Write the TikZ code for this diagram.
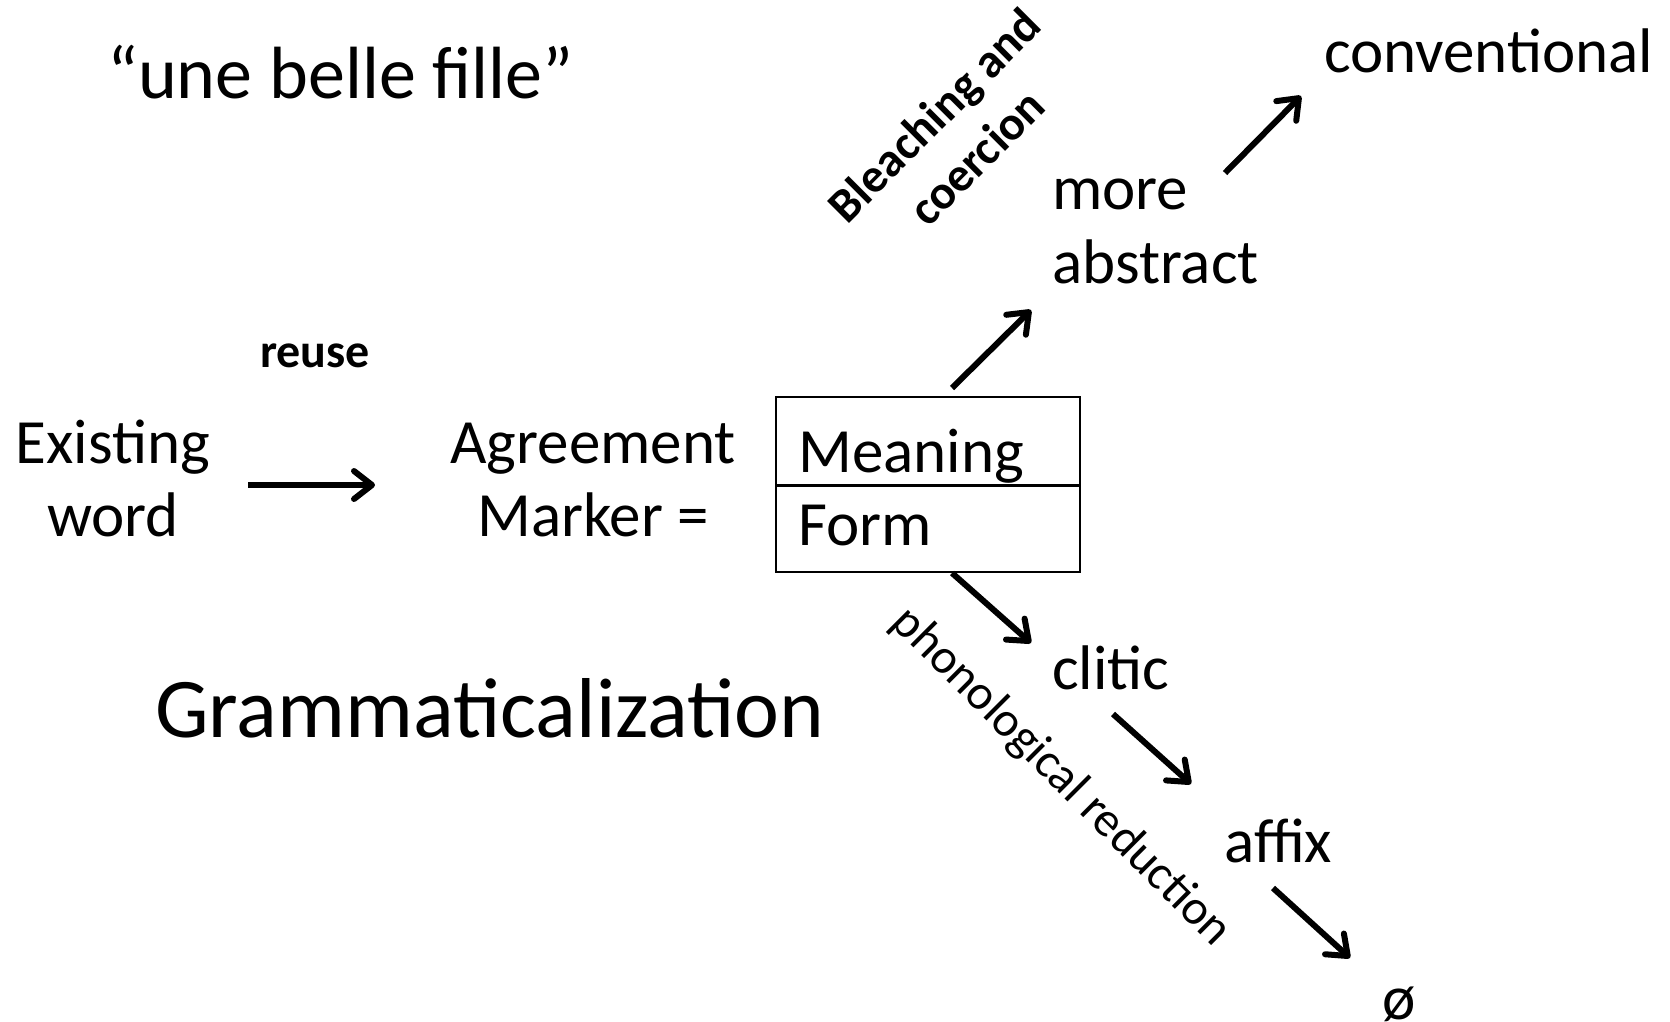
\documentclass[tikz,border=0pt]{standalone}
\usepackage{fontspec}
\setmainfont{Carlito}
\usetikzlibrary{arrows.meta}
\begin{document}
\begin{tikzpicture}[x=1pt,y=-1pt,
  lbl/.style={inner sep=0pt,font=\fontsize{63}{73}\selectfont},
  big/.style={inner sep=0pt,font=\fontsize{85}{95}\selectfont},
  quote/.style={inner sep=0pt,font=\fontsize{74}{84}\selectfont},
  bold/.style={inner sep=0pt,font=\fontsize{48}{60}\selectfont\bfseries},
  thin/.style={inner sep=0pt,font=\fontsize{49}{60}\selectfont},
  arr/.style={line width=6pt,-{Straight Barb[length=18pt,width=28pt,line width=6pt,round]}},
  boxline/.style={line width=2pt}]
\useasboundingbox (0,0) rectangle (1670,1021);
\clip (0,0) rectangle (1670,1021);
% texts
\node[quote,anchor=base west] (q) at (107,98) {“une belle fille”};
\node[lbl,anchor=base west] (conv) at (1324,72) {conventional};
\node[lbl,anchor=base west] (more) at (1052,209) {more};
\node[lbl,anchor=base west] (abs) at (1052,283) {abstract};
\node[bold,anchor=base west] (reuse) at (260,367) {reuse};
\node[lbl,anchor=base] (ex) at (113,463) {Existing};
\node[lbl,anchor=base] (wd) at (113,536) {word};
\node[lbl,anchor=base] (ag) at (593,463) {Agreement};
\node[lbl,anchor=base] (mk) at (593,536) {Marker =};
\node[lbl,anchor=base west] (mean) at (798,472) {Meaning};
\node[lbl,anchor=base west] (form) at (798,545) {Form};
\node[lbl,anchor=base west] (clitic) at (1052,689) {clitic};
\node[lbl,anchor=base west] (affix) at (1224,862) {affix};
\node[lbl,anchor=base west] (zero) at (1382,1019) {ø};
\node[big,anchor=base west] (gram) at (155,737) {Grammaticalization};
\node[bold,align=center,rotate=45] (bleach) at (955,136) {Bleaching and\\coercion};
\node[thin,rotate=-45] (phon) at (1061,777) {phonological reduction};
% box
\draw[boxline] (776,397) rectangle (1080,572);
\draw[line width=3pt] (776,485) -- (1080,485);
% arrow end points
\coordinate (a1s) at (248,485); \coordinate (a1e) at (375,485);
\coordinate (a2s) at (952,388); \coordinate (a2e) at (1031,310);
\coordinate (a3s) at (1225,173); \coordinate (a3e) at (1301,96);
\coordinate (a4s) at (952,573); \coordinate (a4e) at (1031,643);
\coordinate (a5s) at (1113,714); \coordinate (a5e) at (1191,784);
\coordinate (a6s) at (1273,888); \coordinate (a6e) at (1350,958);
\draw[arr] (a1s) -- (a1e);
\draw[arr] (a2s) -- (a2e);
\draw[arr] (a3s) -- (a3e);
\draw[arr] (a4s) -- (a4e);
\draw[arr] (a5s) -- (a5e);
\draw[arr] (a6s) -- (a6e);
\end{tikzpicture}
\end{document}
